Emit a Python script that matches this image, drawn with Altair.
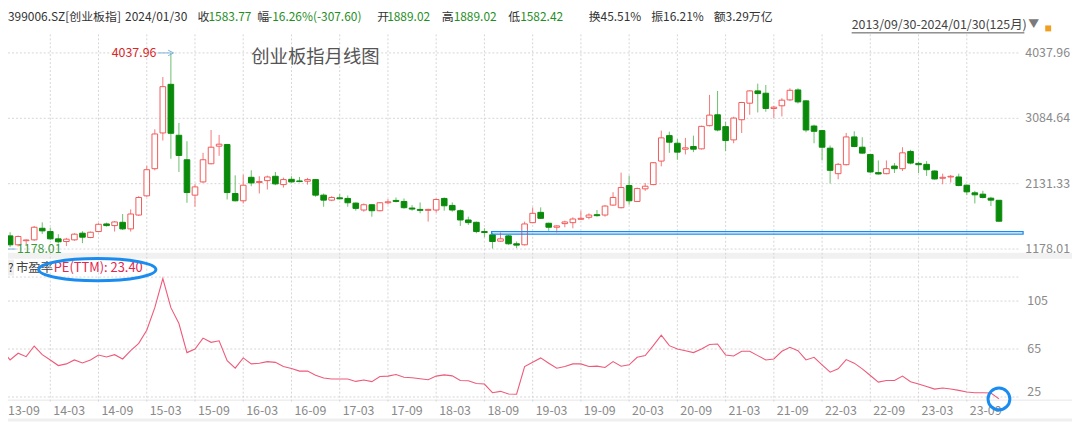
import altair as alt
import pandas as pd

FONT = "Noto Sans CJK SC"

# ---------------- data ----------------
opens = [1216, 1370, 1240, 1300, 1312, 1481, 1433, 1327, 1288, 1312,
         1409, 1346, 1433, 1544, 1520, 1568, 1472, 1674, 1954, 2350,
         2871, 3580, 2837, 2480, 1964, 2157, 2422, 2678, 2702, 1988,
         1882, 2224, 2147, 2176, 2239, 2118, 2195, 2171, 2167, 2191,
         1964, 1891, 1925, 1916, 1848, 1747, 1824, 1737, 1853, 1887,
         1872, 1776, 1756, 1742, 1747, 1916, 1814, 1737, 1602, 1568,
         1433, 1385, 1293, 1370, 1255, 1240, 1563, 1713, 1554, 1496,
         1549, 1563, 1612, 1641, 1679, 1674, 1819, 1781, 2104, 1872,
         2056, 2118, 2461, 2832, 2721, 2634, 2673, 2639, 2977, 3136,
         2963, 2770, 3064, 3305, 3484, 3450, 3228, 3267, 3353, 3498,
         3339, 2972, 2905, 2649, 2277, 2408, 2813, 2663, 2557, 2292,
         2277, 2388, 2350, 2601, 2427, 2413, 2316, 2210, 2229, 2229,
         2109, 1998, 1978, 1920, 1889.02]
highs = [1370, 1423, 1375, 1318, 1515, 1568, 1491, 1394, 1341, 1409,
         1438, 1433, 1554, 1563, 1587, 1689, 1756, 1949, 2393, 2924,
         3686, 4037.96, 3016, 2750, 2123, 2581, 2914, 2842, 2712, 2253,
         2263, 2326, 2239, 2249, 2302, 2220, 2239, 2229, 2215, 2200,
         1988, 1949, 1978, 1959, 1858, 1843, 1834, 1863, 1906, 1930,
         1916, 1819, 1858, 1766, 1916, 1930, 1858, 1756, 1650, 1578,
         1481, 1409, 1419, 1385, 1288, 1578, 1785, 1785, 1563, 1525,
         1592, 1641, 1737, 1699, 1747, 1819, 2007, 2292, 2249, 2075,
         2142, 2446, 2905, 2890, 2784, 2799, 2832, 2977, 3426, 3484,
         3035, 3107, 3324, 3493, 3590, 3571, 3267, 3378, 3522, 3522,
         3349, 2992, 2914, 2688, 2432, 2871, 2895, 2808, 2567, 2470,
         2470, 2432, 2663, 2625, 2451, 2461, 2326, 2277, 2258, 2277,
         2118, 2027, 2027, 1940, 1889.02]
lows = [1178.01, 1206, 1216, 1250, 1298, 1399, 1312, 1259, 1221, 1298,
        1264, 1337, 1423, 1505, 1433, 1457, 1433, 1660, 1940, 2326,
        2760, 2495, 2302, 1853, 1795, 2142, 2413, 2538, 1901, 1872,
        1843, 2094, 1988, 2046, 2109, 2075, 2147, 2152, 2118, 1940,
        1795, 1877, 1901, 1795, 1737, 1723, 1650, 1727, 1829, 1858,
        1766, 1737, 1699, 1578, 1708, 1737, 1723, 1515, 1530, 1409,
        1351, 1185, 1284, 1240, 1190, 1230, 1554, 1616, 1443, 1419,
        1496, 1481, 1602, 1612, 1650, 1650, 1809, 1771, 1824, 1863,
        2027, 2109, 2384, 2581, 2480, 2557, 2591, 2630, 2967, 2895,
        2606, 2721, 2871, 3136, 3170, 3180, 3088, 3112, 3339, 3300,
        2881, 2721, 2470, 2133, 2195, 2398, 2663, 2567, 2287, 2263,
        2268, 2287, 2316, 2413, 2287, 2244, 2191, 2123, 2147, 2094,
        1964, 1843, 1916, 1805, 1582.42]
closes = [1361, 1240, 1361, 1310, 1496, 1443, 1327, 1284, 1322, 1395,
          1351, 1423, 1539, 1520, 1573, 1472, 1689, 1930, 2335, 2856,
          3546, 2866, 2543, 2002, 2084, 2480, 2663, 2707, 2002, 1882,
          2109, 2142, 2162, 2229, 2128, 2191, 2157, 2162, 2191, 1964,
          1891, 1930, 1911, 1853, 1771, 1824, 1737, 1853, 1867, 1872,
          1781, 1761, 1742, 1756, 1901, 1809, 1747, 1602, 1563, 1433,
          1419, 1288, 1327, 1255, 1235, 1544, 1699, 1626, 1496, 1515,
          1573, 1616, 1626, 1674, 1665, 1805, 1930, 2075, 1882, 2060,
          2094, 2437, 2799, 2736, 2591, 2654, 2634, 2967, 3131, 2914,
          2760, 3088, 3315, 3484, 3445, 3228, 3247, 3349, 3493, 3324,
          2914, 2895, 2663, 2326, 2413, 2813, 2673, 2577, 2302, 2273,
          2350, 2350, 2581, 2432, 2408, 2335, 2200, 2224, 2239, 2104,
          2012, 1969, 1930, 1891, 1583.77]
pe_ttm = [64.2, 55.9, 61.5, 58.6, 67.5, 60.3, 55.9, 51.2, 52.6, 55.9,
          53.4, 55.9, 60.0, 58.4, 60.3, 56.7, 63.6, 69.7, 80.7, 99.5,
          123.8, 99.5, 86.3, 62.0, 65.0, 74.1, 70.6, 71.9, 55.3, 49.0,
          57.6, 52.6, 53.2, 54.5, 53.9, 50.4, 48.7, 46.6, 46.6, 43.2,
          40.8, 40.0, 40.0, 40.0, 38.0, 39.1, 37.8, 42.1, 42.4, 43.7,
          41.5, 41.0, 40.2, 39.4, 42.4, 43.4, 42.6, 38.8, 38.5, 36.3,
          35.8, 28.6, 29.7, 27.5, 27.3, 50.4, 54.0, 57.6, 53.2, 49.0,
          50.4, 52.6, 52.6, 50.4, 50.7, 49.6, 54.5, 50.7, 51.8, 58.1,
          59.5, 67.8, 76.6, 67.8, 65.0, 63.6, 62.0, 65.0, 68.8, 69.2,
          60.0, 59.2, 63.1, 63.1, 59.5, 55.9, 56.7, 63.1, 66.4, 63.6,
          55.9, 58.1, 51.8, 45.7, 48.5, 56.2, 53.2, 48.5, 42.9, 37.4,
          38.8, 38.8, 42.4, 37.7, 35.8, 33.8, 31.6, 32.5, 31.6, 30.5,
          29.2, 28.6, 28.6, 28.3, 23.4]

tick_labels = ["13-09", "14-03", "14-09", "15-03", "15-09", "16-03", "16-09",
               "17-03", "17-09", "18-03", "18-09", "19-03", "19-09", "20-03",
               "20-09", "21-03", "21-09", "22-03", "22-09", "23-03", "23-09"]
tick_month_index = [0, 6, 12, 18, 24, 30, 36, 42, 48, 54, 60, 66, 72, 78,
                    84, 90, 96, 102, 108, 114, 120]
price_ticks = [4037.96, 3084.64, 2131.33, 1178.01]
price_tick_labels = ["4037.96", "3084.64", "2131.33", "1178.01"]
pe_grid_values = [125, 105, 65, 25]
pe_tick_values = [105, 65]
pe_tick_labels = ["105", "65"]
pe_bottom_value = [25]
pe_bottom_label = ["25"]

max_point = {"i": 21, "price": 4037.96, "label": "4037.96"}
min_point = {"i": 0, "price": 1178.01, "label": "1178.01"}
band_i = [60.9, 127.0]
band_price = [1395, 1433]

header_texts = ["399006.SZ[创业板指]", "2024/01/30", "收", "1583.77", "幅",
                "-16.26%(-307.60)", "开", "1889.02", "高", "1889.02", "低",
                "1582.42", "换45.51%", "振16.21%", "额3.29万亿"]
header_is_value = [False, False, False, True, False, True, False, True,
                   False, True, False, True, False, False, False]
header_x = [0, 118, 191, 202, 251, 262, 372, 382, 437, 449, 504, 516,
            585, 648, 711]

title_text = "创业板指月线图"
range_text = "2013/09/30-2024/01/30(125月)"
pe_name = "市盈率"
pe_value_text = "PE(TTM): 23.40"

# ---------------- styling ----------------
W, H = 1072, 415
RED = "#f25a5a"
RED_WICK = "#f47a7a"
GREEN = "#0a8a0a"
GREEN_WICK = "#6cbf6c"
GRID = "#d6d6d6"
AXIS_TXT = "#8a8a8a"
BLUE = "#1a8cf0"

xs = alt.Scale(domain=[0.7407, 133.086], nice=False, zero=False)
ps = alt.Scale(domain=[-1336.1, 4670.5], nice=False, zero=False)
es = alt.Scale(domain=[4.6, 348.1], nice=False, zero=False)

n = len(opens)
candles = pd.DataFrame({
    "i": list(range(n)), "open": opens, "high": highs, "low": lows, "close": closes,
})
candles["dir"] = ["up" if c >= o else "down" for o, c in zip(opens, closes)]
candles["x0"] = candles["i"] - 0.35
candles["x1"] = candles["i"] + 0.35
pe_df = pd.DataFrame({"i": list(range(n)), "pe": pe_ttm})

X = lambda f: alt.X(f, type="quantitative", scale=xs, axis=None)
YP = lambda f: alt.Y(f, type="quantitative", scale=ps, axis=None)
YE = lambda f: alt.Y(f, type="quantitative", scale=es, axis=None)

dummy = pd.DataFrame({"k": [0]})

def band(y0, y1, color):
    return alt.Chart(dummy).mark_rect(color=color).encode(
        x=alt.value(0), x2=alt.value(W), y=alt.value(y0), y2=alt.value(y1))

layers = []
layers.append(band(245, 251, "#f1f1f1"))
layers.append(band(412, 415, "#efefef"))
layers.append(alt.Chart(dummy).mark_rule(color="#e6e6e6", strokeWidth=1).encode(
    x=alt.value(0), x2=alt.value(W), y=alt.value(393.5)))

# vertical gridlines
vg = pd.DataFrame({"i": tick_month_index, "lab": tick_labels})
layers.append(alt.Chart(vg).mark_rule(color=GRID, strokeDash=[2, 2], strokeWidth=1).encode(
    x=X("i"), y=alt.value(25), y2=alt.value(397)))

# horizontal gridlines
pg = pd.DataFrame({"p": price_ticks, "lab": price_tick_labels})
layers.append(alt.Chart(pg).mark_rule(color=GRID, strokeDash=[2, 2], strokeWidth=1).encode(
    y=YP("p"), x=alt.value(0), x2=alt.value(1020)))
eg = pd.DataFrame({"v": pe_grid_values})
layers.append(alt.Chart(eg).mark_rule(color=GRID, strokeDash=[2, 2], strokeWidth=1).encode(
    y=YE("v"), x=alt.value(0), x2=alt.value(1020)))

# candles
is_up = alt.datum.dir == "up"
layers.append(alt.Chart(candles).mark_rule(strokeWidth=1).encode(
    x=X("i"), y=YP("low"), y2=alt.Y2("high"),
    color=alt.condition(is_up, alt.value(RED_WICK), alt.value(GREEN_WICK))))
layers.append(alt.Chart(candles).mark_rect(strokeWidth=1).encode(
    x=X("x0"), x2=alt.X2("x1"), y=YP("open"), y2=alt.Y2("close"),
    fill=alt.condition(is_up, alt.value("white"), alt.value(GREEN)),
    stroke=alt.condition(is_up, alt.value(RED), alt.value(GREEN))))

# highlight band
bd = pd.DataFrame({"a": [band_i[0]], "b": [band_i[1]], "p0": [band_price[0]], "p1": [band_price[1]]})
layers.append(alt.Chart(bd).mark_rect(fillOpacity=0, stroke=BLUE, strokeWidth=1.3).encode(
    x=X("a"), x2=alt.X2("b"), y=YP("p0"), y2=alt.Y2("p1")))

# max / min markers
mx = pd.DataFrame({"a": [19.35], "b": [max_point["i"]], "p": [max_point["price"]],
                   "lab": [max_point["label"]], "t": [19.2]})
layers.append(alt.Chart(mx).mark_rule(color="#7fb0dc", strokeWidth=1).encode(
    x=X("a"), x2=alt.X2("b"), y=YP("p")))
layers.append(alt.Chart(mx).mark_point(shape="M-1,-1L1,0L-1,1", filled=False, size=30,
                                       color="#7fb0dc", strokeWidth=1, opacity=1).encode(
    x=X("b"), y=YP("p")))
layers.append(alt.Chart(mx).mark_text(align="right", baseline="middle", font=FONT,
                                      fontSize=12.5, color="#d8282a").encode(
    x=X("t"), y=YP("p"), text="lab:N"))
mn = pd.DataFrame({"a": [min_point["i"]], "b": [1.7], "p": [min_point["price"]],
                   "lab": [min_point["label"]], "t": [1.85]})
layers.append(alt.Chart(mn).mark_rule(color="#7fb0dc", strokeWidth=1).encode(
    x=X("a"), x2=alt.X2("b"), y=YP("p")))
layers.append(alt.Chart(mn).mark_text(align="left", baseline="middle", font=FONT,
                                      fontSize=12.5, color="#3d9a3d").encode(
    x=X("t"), y=YP("p"), text="lab:N"))

# PE line
layers.append(alt.Chart(pe_df).mark_line(color="#ee5a7a", strokeWidth=1.1).encode(
    x=X("i"), y=YE("pe")))

# axis labels (right)
layers.append(alt.Chart(pg).mark_text(align="left", baseline="middle", font=FONT,
                                      fontSize=12.5, color=AXIS_TXT).encode(
    x=alt.value(1025), y=YP("p"), text="lab:N"))
et = pd.DataFrame({"v": pe_tick_values, "lab": pe_tick_labels})
layers.append(alt.Chart(et).mark_text(align="left", baseline="middle", font=FONT,
                                      fontSize=12.5, color=AXIS_TXT).encode(
    x=alt.value(1027), y=YE("v"), text="lab:N"))
eb = pd.DataFrame({"v": pe_bottom_value, "lab": pe_bottom_label})
layers.append(alt.Chart(eb).mark_text(align="left", baseline="middle", font=FONT,
                                      fontSize=12.5, color=AXIS_TXT, dy=-5).encode(
    x=alt.value(1027), y=YE("v"), text="lab:N"))

# bottom labels
layers.append(alt.Chart(vg.iloc[1:]).mark_text(align="left", baseline="middle", font=FONT,
                                               fontSize=12.5, color=AXIS_TXT, dx=3).encode(
    x=X("i"), y=alt.value(404), text="lab:N"))
layers.append(alt.Chart(vg.iloc[:1]).mark_text(align="left", baseline="middle", font=FONT,
                                               fontSize=12.5, color=AXIS_TXT).encode(
    x=alt.value(0), y=alt.value(404), text="lab:N"))

# header
hd = pd.DataFrame({"t": header_texts, "x": header_x,
                   "c": ["#1f8f1f" if v else "#333333" for v in header_is_value]})
layers.append(alt.Chart(hd).mark_text(align="left", baseline="middle", font=FONT,
                                      fontSize=12).encode(
    x=alt.X("x:Q", scale=None, axis=None), y=alt.value(8), text="t:N",
    color=alt.Color("c:N", scale=None, legend=None)))

def label(text, x, y, size, color, align="left", **kw):
    return alt.Chart(pd.DataFrame({"t": [text]})).mark_text(
        align=align, baseline="middle", font=FONT, fontSize=size, color=color, **kw).encode(
        x=alt.value(x), y=alt.value(y), text="t:N")

layers.append(label(range_text, 850, 16, 12.5, "#444444"))
layers.append(alt.Chart(dummy).mark_rule(color="#555555", strokeWidth=1).encode(
    x=alt.value(850), x2=alt.value(1024), y=alt.value(23.5)))
layers.append(label("▼", 1028, 16, 11, "#7a7a7a"))
layers.append(alt.Chart(dummy).mark_rect(color="#f0a020").encode(
    x=alt.value(1045), x2=alt.value(1051), y=alt.value(16), y2=alt.value(22)))
layers.append(label(title_text, 245, 48, 18.5, "#555555"))

# PE header
layers.append(alt.Chart(dummy).mark_rect(color="#eeeeee").encode(
    x=alt.value(0), x2=alt.value(6), y=alt.value(252), y2=alt.value(268)))
layers.append(label("?", 0, 260, 12, "#333333"))
layers.append(label(pe_name, 8, 260, 12.5, "#444444"))
layers.append(label(pe_value_text, 46, 260, 13, "#e3274f"))

# hand-drawn style annotations
layers.append(alt.Chart(dummy).mark_point(
    shape="M-1,0A1,0.19,0,1,1,1,0A1,0.19,0,1,1,-1,0Z", size=118 * 118, filled=False,
    color=BLUE, strokeWidth=3, opacity=1).encode(x=alt.value(90), y=alt.value(262)))
last = pe_df.iloc[-1:]
layers.append(alt.Chart(last).mark_point(
    shape="M-1,0A1,1,0,1,1,1,0A1,1,0,1,1,-1,0Z", size=22 * 22, filled=False,
    color=BLUE, strokeWidth=3, opacity=1).encode(x=X("i"), y=YE("pe")))

chart = alt.layer(*layers).resolve_scale(y="independent").properties(
    width=W, height=H, padding=0, autosize=alt.AutoSizeParams(type="none"),
    background="white"
).configure_view(stroke=None)

chart.save("out.html", embed_options={"renderer": "svg", "actions": False})
